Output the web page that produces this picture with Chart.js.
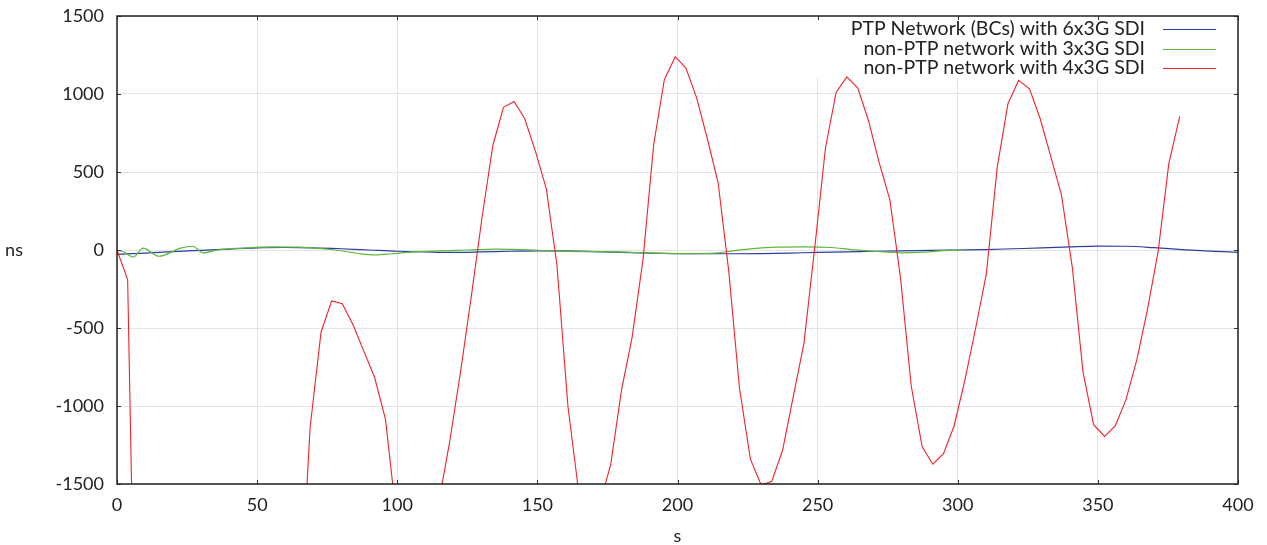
<!DOCTYPE html>
<html>
<head>
<meta charset="utf-8">
<script src="https://cdn.jsdelivr.net/npm/chart.js@4.4.0/dist/chart.umd.min.js"></script>
<style>
    body { margin: 0; background: #fff; }
    #contenedor { width: 1267px; height: 545px; }
</style>
</head>
<body>
<div id="contenedor"><canvas id="graficoPTP" width="1267" height="545"></canvas></div>
<script>
// Tiempos de muestra (s) de la serie roja
const tiemposRojo = [0, 3.8, 7.7, 11.5, 15.3, 19.2, 23.0, 26.8, 30.6, 34.5,
    38.3, 42.1, 46.0, 49.8, 53.6, 57.5, 61.3, 65.1, 68.9, 72.8,
    76.6, 80.4, 84.3, 88.1, 91.9, 95.8, 99.6, 103.4, 107.2, 111.1,
    114.9, 118.7, 122.6, 126.4, 130.2, 134.1, 137.9, 141.7, 145.5, 149.4,
    153.2, 157.0, 160.9, 164.7, 168.5, 172.4, 176.2, 180.0, 183.8, 187.7,
    191.5, 195.3, 199.2, 203.0, 206.8, 210.7, 214.5, 218.3, 222.1, 226.0,
    229.8, 233.6, 237.5, 241.3, 245.1, 249.0, 252.8, 256.6, 260.4, 264.3,
    268.1, 271.9, 275.8, 279.6, 283.4, 287.3, 291.1, 294.9, 298.7, 302.6,
    306.4, 310.2, 314.1, 317.9, 321.7, 325.6, 329.4, 333.2, 337.0, 340.9,
    344.7, 348.5, 352.4, 356.2, 360.0, 363.9, 367.7, 371.5, 375.3, 379.2];

// non-PTP 4x3G SDI (ns) - los valores bajo -1500 no se ven en la imagen, son estimados
const valoresRojo = [0, -190, -3850, -4600, -5100, -5400, -5500, -5400, -5200, -4900,
    -4600, -4300, -4000, -3600, -3300, -3000, -2700, -2400, -1139, -527,
    -326, -344, -482, -650, -816, -1084, -1700, -1900, -2000, -1900,
    -1610, -1230, -780, -300, 200, 670, 915, 952, 841, 627,
    392, -99, -1000, -1545, -1720, -1619, -1373, -900, -560, -60,
    676, 1092, 1239, 1166, 977, 710, 431, -137, -883, -1339,
    -1505, -1484, -1284, -940, -600, 20, 654, 1010, 1110, 1039,
    832, 565, 320, -182, -872, -1262, -1373, -1306, -1128, -830,
    -500, -153, 531, 937, 1087, 1033, 843, 598, 353, -115,
    -783, -1121, -1195, -1128, -961, -705, -380, -10, 552, 856];

// PTP (BCs) 6x3G SDI
const tiemposAzul = [0, 10, 20, 30, 40, 50, 60, 70, 80, 90, 100, 110, 120, 130, 140, 150, 160, 170, 180, 190,
    200, 210, 220, 230, 240, 250, 260, 270, 280, 290, 300, 310, 320, 330, 340, 350, 360, 370, 380, 390, 400];
const valoresAzul = [-28, -20, -10, -3, 6, 14, 16, 14, 8, 0, -8, -12, -15, -12, -8, -5, -6, -10, -15, -20,
    -23, -24, -24, -23, -20, -15, -12, -8, -5, -3, 0, 3, 8, 13, 20, 25, 24, 15, 3, -7, -15];

// non-PTP 3x3G SDI
const tiemposVerde = [0, 2, 5.8, 9.3, 15, 22.7, 26.9, 30.8, 35.8, 45, 55, 65, 72, 80, 87, 92, 98, 105, 115, 125,
    135, 145, 155, 165, 175, 185, 195, 205, 213, 220, 228, 235, 245, 255, 262, 270, 280, 288, 295, 302];
const valoresVerde = [-3, -8, -45, 12, -40, 12, 24, -18, 0, 12, 20, 18, 10, -5, -25, -31, -24, -14, -6, 0,
    6, 3, -6, -10, -10, -16, -21, -23, -20, -5, 10, 18, 20, 16, 3, -8, -18, -14, -4, 0];

const etiquetasSeries = ['PTP Network (BCs) with 6x3G SDI', 'non-PTP network with 3x3G SDI', 'non-PTP network with 4x3G SDI'];
const coloresSeries = ['#2b3f9c', '#5cb83c', '#f2222a'];

function armarPuntos(tiempos, valores) {
    return tiempos.map((t, i) => ({ x: t, y: valores[i] }));
}

// Marco, ticks hacia adentro, leyenda y titulos de ejes
const marcoYLeyenda = {
    id: 'marcoYLeyenda',
    beforeDatasetsDraw(chart) {
        const { ctx, chartArea } = chart;
        ctx.save();
        ctx.fillStyle = '#ffffff';
        ctx.fillRect(chartArea.right - 426, chartArea.top, 426, 62);
        ctx.restore();
    },
    afterDraw(chart) {
        const { ctx, chartArea, scales } = chart;
        const { left, right, top, bottom } = chartArea;
        ctx.save();

        // ticks cortos hacia adentro
        ctx.strokeStyle = '#333';
        ctx.lineWidth = 1;
        ctx.beginPath();
        scales.x.ticks.forEach(t => {
            const px = Math.round(scales.x.getPixelForValue(t.value)) + 0.5;
            ctx.moveTo(px, bottom); ctx.lineTo(px, bottom - 4);
            ctx.moveTo(px, top); ctx.lineTo(px, top + 4);
        });
        scales.y.ticks.forEach(t => {
            const py = Math.round(scales.y.getPixelForValue(t.value)) + 0.5;
            ctx.moveTo(left, py); ctx.lineTo(left + 4, py);
            ctx.moveTo(right, py); ctx.lineTo(right - 4, py);
        });
        ctx.stroke();

        // marco
        ctx.strokeStyle = '#222';
        ctx.lineWidth = 1.5;
        ctx.strokeRect(left, top, right - left, bottom - top);

        // leyenda
        ctx.font = '19.5px Lato';
        ctx.fillStyle = '#222';
        ctx.textAlign = 'right';
        ctx.textBaseline = 'middle';
        etiquetasSeries.forEach((texto, i) => {
            const y = top + 13 + i * 19.5;
            ctx.fillText(texto, right - 93, y);
            ctx.strokeStyle = coloresSeries[i];
            ctx.lineWidth = 1;
            ctx.beginPath();
            ctx.moveTo(right - 75, Math.round(y) + 0.5);
            ctx.lineTo(right - 22, Math.round(y) + 0.5);
            ctx.stroke();
        });

        // titulos de ejes
        ctx.font = '18px Lato';
        ctx.textAlign = 'center';
        ctx.fillText('s', (left + right) / 2, 536);
        ctx.fillText('ns', 14, (top + bottom) / 2);
        ctx.restore();
    }
};

const ctx = document.getElementById('graficoPTP').getContext('2d');
Chart.defaults.font.family = 'Lato';
Chart.defaults.font.size = 18;
Chart.defaults.color = '#222';

new Chart(ctx, {
    type: 'line',
    data: {
        datasets: [
            {
                label: etiquetasSeries[0],
                data: armarPuntos(tiemposAzul, valoresAzul),
                borderColor: coloresSeries[0],
                borderWidth: 1.2,
                pointRadius: 0,
                cubicInterpolationMode: 'monotone',
                order: 3
            },
            {
                label: etiquetasSeries[1],
                data: armarPuntos(tiemposVerde, valoresVerde),
                borderColor: coloresSeries[1],
                borderWidth: 1.2,
                pointRadius: 0,
                cubicInterpolationMode: 'monotone',
                order: 2
            },
            {
                label: etiquetasSeries[2],
                data: armarPuntos(tiemposRojo, valoresRojo),
                borderColor: coloresSeries[2],
                borderWidth: 1.1,
                pointRadius: 0,
                tension: 0,
                order: 1
            }
        ]
    },
    options: {
        responsive: false,
        animation: false,
        events: [],
        layout: { padding: { top: 16, right: 29, left: 0, bottom: 0 } },
        plugins: {
            legend: { display: false },
            tooltip: { enabled: false }
        },
        scales: {
            x: {
                type: 'linear',
                min: 0,
                max: 400,
                ticks: { stepSize: 50, padding: 10, maxRotation: 0, callback: v => String(v) },
                grid: { color: '#e4e4e4', drawTicks: false },
                border: { display: false },
                afterFit: scale => { scale.height = 61; }
            },
            y: {
                min: -1500,
                max: 1500,
                ticks: { stepSize: 500, padding: 13, callback: v => String(v) },
                grid: { color: '#e4e4e4', drawTicks: false },
                border: { display: false },
                afterFit: scale => {
                    scale.width = 117;
                    scale.paddingTop = 0;
                    scale.paddingBottom = 0;
                }
            }
        }
    },
    plugins: [marcoYLeyenda]
});
</script>
</body>
</html>
